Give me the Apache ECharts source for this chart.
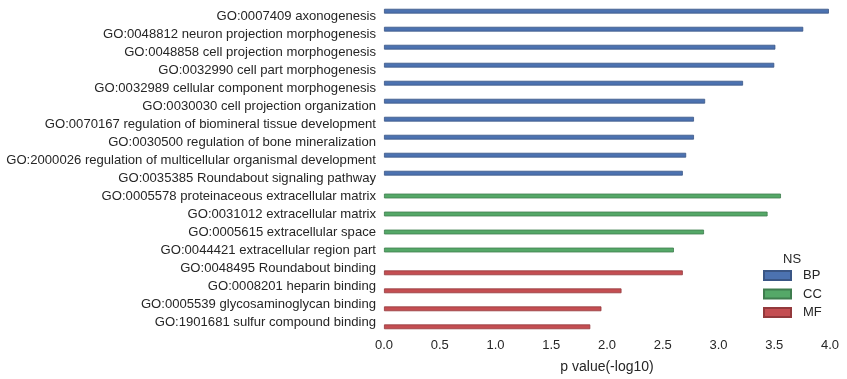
<!DOCTYPE html>
<html>
<head>
<meta charset="utf-8">
<script src="https://cdn.jsdelivr.net/npm/echarts@6/dist/echarts.min.js"></script>
<style>
html,body{margin:0;padding:0;background:#fff;}
#c{width:847px;height:379px;}
</style>
</head>
<body>
<div id="c"></div>
<script>
const categories = [
  "GO:0007409 axonogenesis",
  "GO:0048812 neuron projection morphogenesis",
  "GO:0048858 cell projection morphogenesis",
  "GO:0032990 cell part morphogenesis",
  "GO:0032989 cellular component morphogenesis",
  "GO:0030030 cell projection organization",
  "GO:0070167 regulation of biomineral tissue development",
  "GO:0030500 regulation of bone mineralization",
  "GO:2000026 regulation of multicellular organismal development",
  "GO:0035385 Roundabout signaling pathway",
  "GO:0005578 proteinaceous extracellular matrix",
  "GO:0031012 extracellular matrix",
  "GO:0005615 extracellular space",
  "GO:0044421 extracellular region part",
  "GO:0048495 Roundabout binding",
  "GO:0008201 heparin binding",
  "GO:0005539 glycosaminoglycan binding",
  "GO:1901681 sulfur compound binding"
];
const namespaces = ["BP","BP","BP","BP","BP","BP","BP","BP","BP","BP","CC","CC","CC","CC","MF","MF","MF","MF"];
const pValues = [3.99, 3.76, 3.51, 3.50, 3.22, 2.88, 2.78, 2.78, 2.71, 2.68, 3.56, 3.44, 2.87, 2.60, 2.68, 2.13, 1.95, 1.85];
const xTicks = [0, 0.5, 1.0, 1.5, 2.0, 2.5, 3.0, 3.5, 4.0];
const nsNames = ["BP", "CC", "MF"];
const nsColors = {BP: "#4C72B0", CC: "#55A868", MF: "#C44E52"};
const nsBorders = {BP: "#3a5685", CC: "#3f7d4e", MF: "#93393c"};

const txt = "#262626";
const font = "Liberation Sans";

const series = nsNames.map(ns => ({
  name: ns,
  type: "bar",
  data: pValues.map((v, i) => namespaces[i] === ns ? v : null),
  barGap: "0%",
  barCategoryGap: "20%",
  itemStyle: {color: nsColors[ns], borderColor: nsBorders[ns], borderWidth: 0.8},
  emphasis: {disabled: true}
}));

const chart = echarts.init(document.getElementById("c"), null, {renderer: "canvas"});
chart.setOption({
  backgroundColor: "#ffffff",
  animation: false,
  textStyle: {fontFamily: font, color: txt},
  title: {
    text: "NS", left: 778, top: 248,
    textStyle: {fontFamily: font, fontSize: 13, fontWeight: "normal", color: txt}
  },
  legend: {
    data: nsNames,
    orient: "vertical",
    left: 758, top: 264,
    itemWidth: 27, itemHeight: 9, itemGap: 5.5,
    textStyle: {fontFamily: font, fontSize: 13, color: txt, padding: [0, 0, 0, 7]},
    icon: "rect"
  },
  grid: {left: 384, right: 17, top: 7, bottom: 48, containLabel: false},
  xAxis: {
    type: "value", min: xTicks[0], max: xTicks[xTicks.length - 1], interval: 0.5,
    name: "p value(-log10)", nameLocation: "middle", nameGap: 29,
    nameTextStyle: {fontFamily: font, fontSize: 14, color: txt},
    axisLine: {show: false}, axisTick: {show: false}, splitLine: {show: false},
    axisLabel: {fontFamily: font, fontSize: 13, color: txt, margin: 8,
      formatter: v => v.toFixed(1)}
  },
  yAxis: {
    type: "category", data: categories, inverse: true,
    axisLine: {show: false}, axisTick: {show: false}, splitLine: {show: false},
    axisLabel: {fontFamily: font, fontSize: 13.1, color: txt, margin: 8}
  },
  series: series
});
</script>
</body>
</html>
